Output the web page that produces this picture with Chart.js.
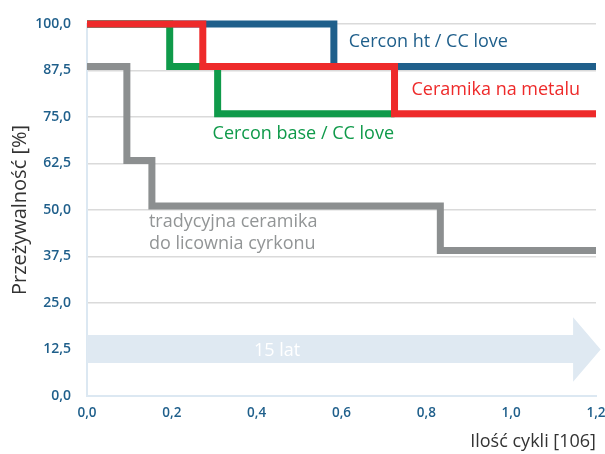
<!DOCTYPE html>
<html>
<head>
<meta charset="utf-8">
<script src="https://cdn.jsdelivr.net/npm/chart.js@4/dist/chart.umd.min.js"></script>
<style>
  html, body { margin: 0; padding: 0; background: #fff; }
  #wrap { width: 605px; height: 454px; }
</style>
</head>
<body>
<div id="wrap"><canvas id="wykres"></canvas></div>
<script>
// ilość cykli (x) i przeżywalność (y) dla każdej krzywej
const cerconHtX = [0, 0.582, 1.2];
const cerconHtY = [100, 88.6, 88.6];
const metalX = [0, 0.273, 0.725, 1.2];
const metalY = [100, 88.6, 75.9, 75.9];
const cerconBaseX = [0, 0.195, 0.308, 0.725];
const cerconBaseY = [100, 88.6, 75.9, 75.9];
const tradX = [0, 0.094, 0.153, 0.833, 1.2];
const tradY = [88.6, 63.3, 51.1, 39.1, 39.1];

const yTicks = [0, 12.5, 25, 37.5, 50, 62.5, 75, 87.5, 100];
const xTicks = [0, 0.2, 0.4, 0.6, 0.8, 1.0, 1.2];

// podpisy krzywych (pozycja w jednostkach wykresu)
const podpisy = [
  { tekst: "Cercon ht / CC love", x: 0.617, y: 95.2, kolor: "#1f5f8b" },
  { tekst: "Ceramika na metalu", x: 0.765, y: 82.3, kolor: "#ee2a2a" },
  { tekst: "Cercon base / CC love", x: 0.296, y: 70.4, kolor: "#0f9a4a" },
  { tekst: "tradycyjna ceramika", x: 0.146, y: 46.8, kolor: "#929596" },
  { tekst: "do licownia cyrkonu", x: 0.146, y: 40.9, kolor: "#929596" }
];

// strzałka "15 lat"
const strzalkaX = [0, 1.146, 1.146, 1.211, 1.146, 1.146, 0];
const strzalkaY = [16.4, 16.4, 21.2, 12.5, 3.8, 8.9, 8.9];
const strzalkaTekst = { tekst: "15 lat", x: 0.448, y: 12.0 };

const punkty = (xs, ys) => xs.map((x, i) => ({ x: x, y: ys[i] }));
const fmt = v => Number(v).toFixed(1).replace(".", ",");

function seria(xs, ys, kolor) {
  return {
    data: punkty(xs, ys),
    borderColor: kolor,
    backgroundColor: kolor,
    borderWidth: 7,
    stepped: "before",
    pointRadius: 0,
    borderJoinStyle: "miter",
    borderCapStyle: "butt",
    clip: false,
    fill: false
  };
}

const tloPlugin = {
  id: "strzalka",
  beforeDatasetsDraw(chart) {
    const c = chart.ctx, sx = chart.scales.x, sy = chart.scales.y;
    c.save();
    c.beginPath();
    strzalkaX.forEach((x, i) => {
      const px = sx.getPixelForValue(x), py = sy.getPixelForValue(strzalkaY[i]);
      if (i === 0) c.moveTo(px, py); else c.lineTo(px, py);
    });
    c.closePath();
    c.fillStyle = "#dfe9f2";
    c.fill();
    c.fillStyle = "#ffffff";
    c.font = "18px 'Open Sans'";
    c.textAlign = "center";
    c.textBaseline = "middle";
    c.fillText(strzalkaTekst.tekst, sx.getPixelForValue(strzalkaTekst.x), sy.getPixelForValue(strzalkaTekst.y));
    c.restore();
  },
  afterDatasetsDraw(chart) {
    const c = chart.ctx, sx = chart.scales.x, sy = chart.scales.y;
    c.save();
    c.font = "18px 'Open Sans'";
    c.textAlign = "left";
    c.textBaseline = "middle";
    podpisy.forEach(p => {
      c.fillStyle = p.kolor;
      c.fillText(p.tekst, sx.getPixelForValue(p.x), sy.getPixelForValue(p.y));
    });
    c.restore();
  }
};

new Chart(document.getElementById("wykres"), {
  type: "line",
  data: {
    datasets: [
      seria(metalX, metalY, "#ee2a2a"),
      seria(cerconBaseX, cerconBaseY, "#0f9a4a"),
      seria(cerconHtX, cerconHtY, "#1f5f8b"),
      seria(tradX, tradY, "#8c8f90")
    ]
  },
  options: {
    responsive: true,
    maintainAspectRatio: false,
    animation: false,
    layout: { padding: { top: 24, right: 9, left: 0, bottom: 0 } },
    plugins: { legend: { display: false }, tooltip: { enabled: false } },
    scales: {
      x: {
        type: "linear",
        min: 0,
        max: 1.2,
        afterBuildTicks: s => { s.ticks = xTicks.map(v => ({ value: v })); },
        afterFit: s => { s.height = 58; s.paddingRight = 0; s.paddingLeft = 0; },
        grid: { display: false, drawTicks: false },
        border: { color: "#dce8f2", width: 2 },
        ticks: {
          padding: 9,
          color: "#1f5f8b",
          font: { family: "'Open Sans'", size: 13.5, weight: "600" },
          maxRotation: 0,
          callback: v => fmt(v)
        },
        title: {
          display: true,
          text: "Ilość cykli [106]",
          align: "end",
          color: "#333333",
          font: { family: "'Open Sans'", size: 18 },
          padding: { top: 2, bottom: 1 }
        }
      },
      y: {
        min: 0,
        max: 100,
        afterBuildTicks: s => { s.ticks = yTicks.map(v => ({ value: v })); },
        afterFit: s => { s.width = 87; s.paddingTop = 0; s.paddingBottom = 0; },
        grid: {
          drawTicks: false,
          lineWidth: 1.5,
          color: ctx => (ctx.tick && ctx.tick.value === 0 ? "#dce8f2" : "#dadada")
        },
        border: { color: "#dce8f2", width: 2 },
        ticks: {
          padding: 16,
          color: "#1f5f8b",
          font: { family: "'Open Sans'", size: 14, weight: "600" },
          callback: v => fmt(v)
        },
        title: {
          display: true,
          text: "Przeżywalność [%]",
          color: "#333333",
          font: { family: "'Open Sans'", size: 20 },
          padding: { top: 8, bottom: 0 }
        }
      }
    }
  },
  plugins: [tloPlugin]
});
</script>
</body>
</html>
